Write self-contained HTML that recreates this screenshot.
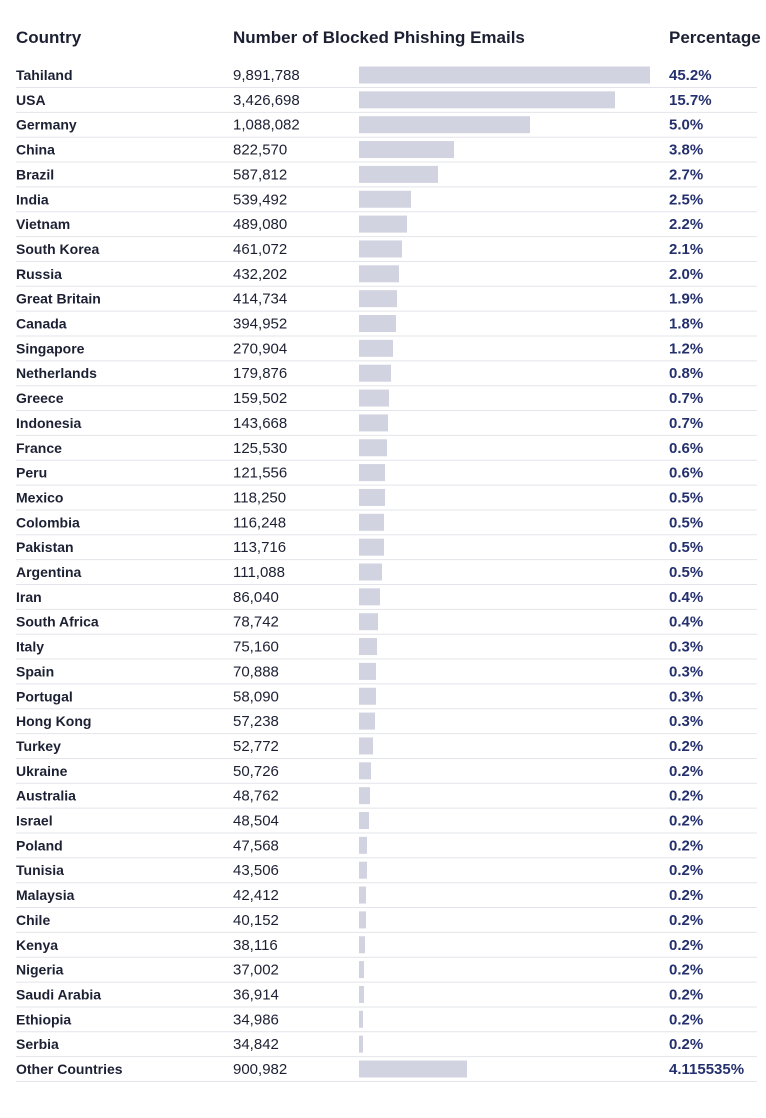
<!DOCTYPE html>
<html><head><meta charset="utf-8"><style>
body{margin:0;background:#fff;width:766px;height:1118px;overflow:hidden;font-family:"Liberation Sans",sans-serif;}
svg{display:block}
</style></head><body>
<svg id="chart" width="766" height="1118" xmlns="http://www.w3.org/2000/svg">
<g font-size="17" fill="#1c2033" font-weight="600">
<text x="16" y="43">Country</text>
<text x="233" y="43">Number of Blocked Phishing Emails</text>
<text x="669" y="43">Percentage</text>
</g>
<g id="rows"></g>
</svg>
<script>
const countries=["Tahiland","USA","Germany","China","Brazil","India","Vietnam","South Korea","Russia","Great Britain","Canada","Singapore","Netherlands","Greece","Indonesia","France","Peru","Mexico","Colombia","Pakistan","Argentina","Iran","South Africa","Italy","Spain","Portugal","Hong Kong","Turkey","Ukraine","Australia","Israel","Poland","Tunisia","Malaysia","Chile","Kenya","Nigeria","Saudi Arabia","Ethiopia","Serbia","Other Countries"];
const emails=["9,891,788","3,426,698","1,088,082","822,570","587,812","539,492","489,080","461,072","432,202","414,734","394,952","270,904","179,876","159,502","143,668","125,530","121,556","118,250","116,248","113,716","111,088","86,040","78,742","75,160","70,888","58,090","57,238","52,772","50,726","48,762","48,504","47,568","43,506","42,412","40,152","38,116","37,002","36,914","34,986","34,842","900,982"];
const barScores=[291,256,171,95,79,52,48,43,40,38,37,34,32,30,29,28,26,26,25,25,23,21,19,18,17,17,16,14,12,11,10,8,8,7,7,6,5,5,4,4,108];
const percents=["45.2%","15.7%","5.0%","3.8%","2.7%","2.5%","2.2%","2.1%","2.0%","1.9%","1.8%","1.2%","0.8%","0.7%","0.7%","0.6%","0.6%","0.5%","0.5%","0.5%","0.5%","0.4%","0.4%","0.3%","0.3%","0.3%","0.3%","0.2%","0.2%","0.2%","0.2%","0.2%","0.2%","0.2%","0.2%","0.2%","0.2%","0.2%","0.2%","0.2%","4.115535%"];
const NS="http://www.w3.org/2000/svg";
const g=document.getElementById('rows');
const maxScore=291;
function xScale(v){return v/maxScore*291;}
function yScale(i){return 75+i*24.85;}
function mk(tag,attrs){const e=document.createElementNS(NS,tag);for(const k in attrs)e.setAttribute(k,attrs[k]);return e;}
countries.forEach((c,i)=>{
  const cy=yScale(i);
  const row=mk('g',{});
  
  
  const t1=mk('text',{x:16,y:cy+5,'font-size':14,'font-weight':600,fill:'#1c2033'});
  t1.textContent=c;
  
  
  const t2=mk('text',{x:233,y:cy+5,'font-size':15,fill:'#1c2033'});
  t2.textContent=emails[i];
  
  
  const b=mk('rect',{x:359,y:cy-8.5,width:xScale(barScores[i]),height:17,fill:'#d1d3e0'});
  
  
  const t3=mk('text',{x:669,y:cy+5,'font-size':15,'font-weight':700,fill:'#24306e'});
  t3.textContent=percents[i];
  
  
  const l=mk('line',{x1:16,x2:757,y1:cy+12.5,y2:cy+12.5,stroke:'#e3e4ea','stroke-width':1});
  
  
  row.append(b,l,t1,t2,t3);
  g.appendChild(row);
});
</script>
</body></html>
